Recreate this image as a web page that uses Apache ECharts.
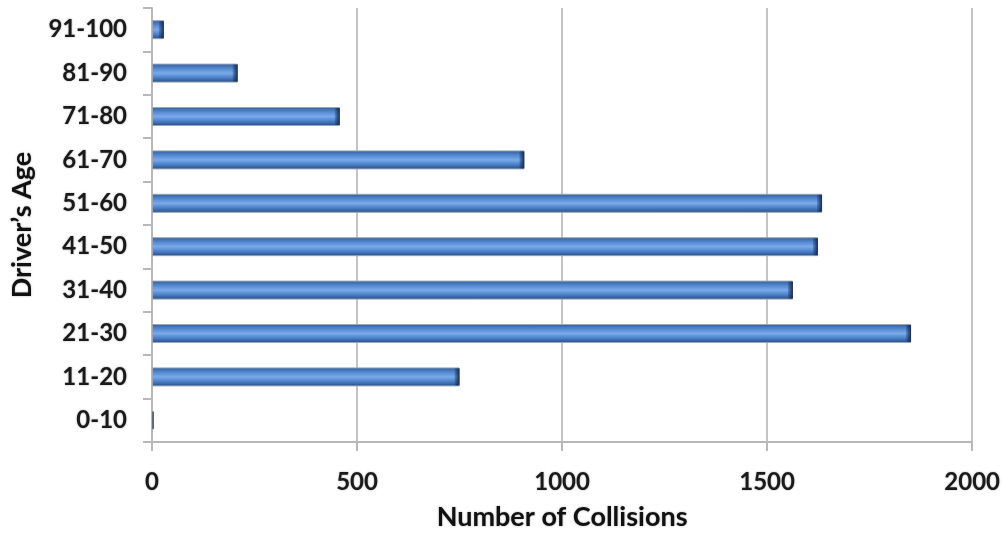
<!DOCTYPE html>
<html>
<head>
<meta charset="utf-8">
<script src="https://cdn.jsdelivr.net/npm/echarts@6/dist/echarts.min.js"></script>
<style>
  html, body { margin: 0; padding: 0; background: #ffffff; }
  #chart { width: 1003px; height: 536px; }
</style>
</head>
<body>
<div id="chart"></div>
<script>
// Driver age groups, bottom to top
const ageGroups = ['0-10', '11-20', '21-30', '31-40', '41-50', '51-60', '61-70', '71-80', '81-90', '91-100'];
// Collisions per age group
const collisions = [4, 750, 1851, 1563, 1624, 1634, 908, 458, 209, 29];
// Collision axis range and step
const xMin = 0;
const xMax = 2000;
const xStep = 500;

const FONT = 'Lato, "Open Sans", sans-serif';
const haze = { textShadowColor: 'rgba(90,90,90,0.55)', textShadowBlur: 2 };
const BAR_W = 19;

const chart = echarts.init(document.getElementById('chart'));
chart.setOption({
  animation: false,
  backgroundColor: '#ffffff',
  grid: { left: 152, right: 30, top: 8, bottom: 92, containLabel: false },
  xAxis: {
    type: 'value',
    min: xMin, max: xMax, interval: xStep,
    name: 'Number of Collisions',
    nameLocation: 'middle',
    nameGap: 62,
    nameTextStyle: Object.assign({ fontFamily: FONT, fontWeight: 'bold', fontSize: 27, color: '#111' }, haze),
    axisLine: { show: true, lineStyle: { color: '#b8b8b8', width: 2 } },
    axisTick: { show: true, length: 9, lineStyle: { color: '#b8b8b8', width: 2 } },
    splitLine: { show: true, lineStyle: { color: '#c4c4c4', width: 2 } },
    axisLabel: Object.assign({
      fontFamily: FONT, fontWeight: 'bold', fontSize: 24, color: '#1a1a1a', margin: 28,
      formatter: v => String(v)
    }, haze)
  },
  yAxis: {
    type: 'category',
    data: ageGroups,
    name: "Driver’s Age",
    nameLocation: 'middle',
    nameGap: 116,
    nameRotate: 90,
    nameTextStyle: Object.assign({ fontFamily: FONT, fontWeight: 'bold', fontSize: 27, color: '#111' }, haze),
    axisLine: { show: true, lineStyle: { color: '#b8b8b8', width: 2 } },
    axisTick: { show: true, length: 9, lineStyle: { color: '#b8b8b8', width: 2 } },
    splitLine: { show: false },
    axisLabel: Object.assign({
      fontFamily: FONT, fontWeight: 'bold', fontSize: 24, color: '#1a1a1a', margin: 25,
      padding: [6, 0, 0, 0]
    }, haze)
  },
  series: [{
    type: 'bar',
    data: collisions,
    barWidth: BAR_W,
    itemStyle: {
      color: new echarts.graphic.LinearGradient(0, 0, 0, 1, [
        { offset: 0, color: '#2f5d9e' },
        { offset: 0.3, color: '#5a8fd6' },
        { offset: 0.5, color: '#79aaea' },
        { offset: 0.75, color: '#4a7fc6' },
        { offset: 1, color: '#254a80' }
      ]),
      borderColor: '#9aa6b4',
      borderWidth: 1
    }
  }, {
    // dark shaded cap at the end of each bar
    type: 'custom',
    data: collisions.map((v, i) => [v, i]),
    encode: { x: 0, y: 1 },
    z: 3,
    silent: true,
    renderItem: (params, api) => {
      const end = api.coord([api.value(0), api.value(1)]);
      const start = api.coord([0, api.value(1)]);
      const w = Math.min(5, end[0] - start[0]);
      if (w <= 0) return null;
      return {
        type: 'rect',
        shape: { x: end[0] - w, y: end[1] - BAR_W / 2 + 1, width: w, height: BAR_W - 2 },
        style: {
          fill: new echarts.graphic.LinearGradient(0, 0, 1, 0, [
            { offset: 0, color: 'rgba(20,45,90,0.25)' },
            { offset: 1, color: 'rgba(15,35,75,0.95)' }
          ])
        }
      };
    }
  }]
});
</script>
</body>
</html>
